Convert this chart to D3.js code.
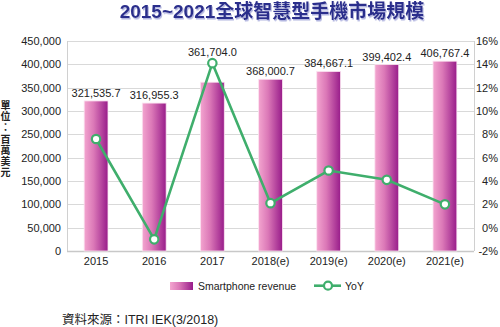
<!DOCTYPE html>
<html><head><meta charset="utf-8">
<script src="https://cdn.jsdelivr.net/npm/d3@7"></script>
<style>
body{margin:0;background:#fff;}
text{font-family:"Liberation Sans",Arial,"Noto Sans CJK TC",sans-serif;}
</style></head>
<body><svg id="c" width="500" height="327"></svg>
<script>
const categories = ["2015","2016","2017","2018(e)","2019(e)","2020(e)","2021(e)"];
const revenue = [321535.7,316955.3,361704.0,368000.7,384667.1,399402.4,406767.4];
const yoy = [7.6,-1.0,14.1,2.1,4.9,4.1,2.0];
const leftTicks = [0,50000,100000,150000,200000,250000,300000,350000,400000,450000];
const rightTicks = [-2,0,2,4,6,8,10,12,14,16];
const title = "2015~2021全球智慧型手機市場規模";
const yTitle = "單位：百萬美元";
const seriesNames = ["Smartphone revenue","YoY"];
const source = "資料來源：ITRI IEK(3/2018)";

const svg = d3.select("#c");
const L=67,R=474,T=41,B=251;
const x = d3.scaleBand().domain(categories).range([L,R]).paddingInner(0.59).paddingOuter(0.295);
const y = d3.scaleLinear().domain([0,450000]).range([B,T]);
const y2 = d3.scaleLinear().domain([-2,16]).range([B,T]);

const defs = svg.append("defs");
const g = defs.append("linearGradient").attr("id","bg").attr("x1","0").attr("x2","1").attr("y1","0").attr("y2","0");
g.append("stop").attr("offset","0%").attr("stop-color","#f3a5cf");
g.append("stop").attr("offset","40%").attr("stop-color","#db78b7");
g.append("stop").attr("offset","100%").attr("stop-color","#981c8a");
const f = defs.append("filter").attr("id","sh");
f.append("feDropShadow").attr("dx",1).attr("dy",1.5).attr("stdDeviation",0.6).attr("flood-color","#9fa3d8").attr("flood-opacity",0.8);

// title
svg.append("text").attr("x",272).attr("y",18).attr("text-anchor","middle")
  .attr("font-size",19).attr("font-weight","bold").attr("fill","#2b2e8c")
  .attr("filter","url(#sh)").text(title);

// gridlines
svg.append("g").selectAll("line").data(leftTicks).join("line")
  .attr("x1",L).attr("x2",R).attr("y1",d=>Math.round(y(d))+0.5).attr("y2",d=>Math.round(y(d))+0.5)
  .attr("stroke",d=>d===0?"#c8c8c8":"#d9d9d9").attr("stroke-width",d=>d===0?1.5:1);
svg.append("line").attr("x1",L+0.5).attr("x2",L+0.5).attr("y1",T).attr("y2",B).attr("stroke","#d0d0d0");
svg.append("line").attr("x1",R+0.5).attr("x2",R+0.5).attr("y1",T).attr("y2",B).attr("stroke","#d0d0d0");

// left axis
const la = svg.append("g").attr("transform",`translate(${L-6},0)`)
  .call(d3.axisLeft(y).tickValues(leftTicks).tickSize(0).tickPadding(0).tickFormat(d3.format(",")));
la.select(".domain").remove();
la.selectAll("text").attr("font-size",11).attr("fill","#222").attr("font-family","Liberation Sans, Arial, sans-serif");

// right axis
const ra = svg.append("g").attr("transform",`translate(${R+24},0)`)
  .call(d3.axisLeft(y2).tickValues(rightTicks).tickSize(0).tickPadding(0).tickFormat(d=>d+"%"));
ra.select(".domain").remove();
ra.selectAll("text").attr("font-size",11).attr("fill","#222").attr("font-family","Liberation Sans, Arial, sans-serif").attr("text-anchor","end");

// y title vertical
const yt = svg.append("text").attr("font-size",10).attr("font-weight","bold").attr("fill","#222")
  .attr("text-anchor","middle").attr("font-family","Noto Sans CJK TC, sans-serif");
Array.from(yTitle).forEach((ch,i)=>{
  yt.append("tspan").attr("x",5.5).attr("y",109+i*11.2).text(ch);
});

// bars
svg.append("g").selectAll("rect").data(revenue).join("rect")
  .attr("x",(d,i)=>x(categories[i])).attr("width",x.bandwidth())
  .attr("y",d=>y(d)).attr("height",d=>B-y(d))
  .attr("fill","url(#bg)").attr("stroke","#fbe3f0").attr("stroke-width",0.8);

// x labels
const xa = svg.append("g").attr("transform",`translate(0,${B+6})`)
  .call(d3.axisBottom(x).tickSize(0).tickPadding(0));
xa.select(".domain").remove();
xa.selectAll("text").attr("font-size",11).attr("fill","#222").attr("dy","0.71em").attr("font-family","Liberation Sans, Arial, sans-serif");

// line
const line = d3.line().x((d,i)=>x(categories[i])+x.bandwidth()/2).y(d=>y2(d));
svg.append("path").datum(yoy).attr("d",line).attr("fill","none").attr("stroke","#3fae6c").attr("stroke-width",2.6);
svg.append("g").selectAll("circle").data(yoy).join("circle")
  .attr("cx",(d,i)=>x(categories[i])+x.bandwidth()/2).attr("cy",d=>y2(d)).attr("r",4.2)
  .attr("fill","#fff").attr("stroke","#3fae6c").attr("stroke-width",2.2);

// value labels
svg.append("g").selectAll("text").data(revenue).join("text")
  .attr("x",(d,i)=>x(categories[i])+x.bandwidth()/2)
  .attr("y",(d,i)=>{const py=y2(yoy[i]); const by=y(d); return py<by ? py-7 : by-4;})
  .attr("text-anchor","middle").attr("font-size",11).attr("fill","#222")
  .text(d=>d3.format(",.1f")(d));

// legend
svg.append("rect").attr("x",170).attr("y",282).attr("width",23).attr("height",8).attr("fill","url(#bg)");
svg.append("text").attr("x",198).attr("y",289.5).attr("font-size",10.5).attr("fill","#222").text(seriesNames[0]);
svg.append("line").attr("x1",314).attr("x2",341).attr("y1",285.7).attr("y2",285.7).attr("stroke","#3fae6c").attr("stroke-width",2.6);
svg.append("circle").attr("cx",328).attr("cy",285.7).attr("r",4).attr("fill","#fff").attr("stroke","#3fae6c").attr("stroke-width",2.2);
svg.append("text").attr("x",345).attr("y",289.5).attr("font-size",10.5).attr("fill","#222").text(seriesNames[1]);

// source
svg.append("text").attr("x",62).attr("y",324).attr("font-size",12.5).attr("fill","#222").text(source);
</script></body></html>
